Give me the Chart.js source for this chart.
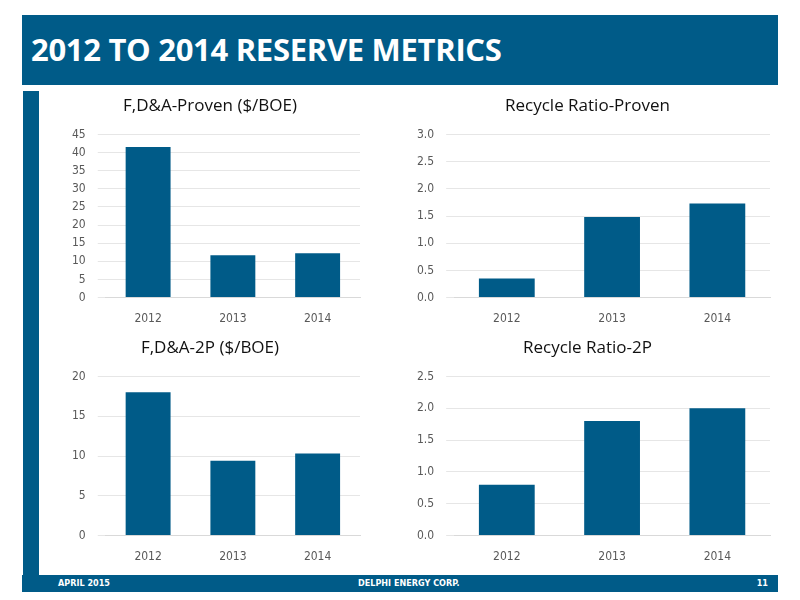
<!DOCTYPE html>
<html><head><meta charset="utf-8">
<script src="https://cdn.jsdelivr.net/npm/chart.js@4"></script>
<style>
body{margin:0;width:800px;height:600px;background:#fff;position:relative;overflow:hidden;font-family:"Open Sans",sans-serif}
#hdr{position:absolute;left:22px;top:15px;width:756px;height:70px;background:#005b88;color:#fff;font-weight:bold;font-size:31px;line-height:68px;padding-left:9px;box-sizing:border-box;letter-spacing:-0.3px}
#lbar{position:absolute;left:23px;top:91px;width:16px;height:500px;background:#005b88}
#ftr{position:absolute;left:22px;top:575px;width:756px;height:17px;background:#005b88;color:#fff;font-family:"Liberation Sans Narrow","DejaVu Sans Condensed",sans-serif;font-weight:bold;font-size:9px;line-height:17px}
.c{position:absolute}
</style></head><body>
<div id="hdr">2012 TO 2014 RESERVE METRICS</div>
<div id="lbar"></div>
<div id="ftr"><span style="position:absolute;left:36px">APRIL 2015</span><span style="position:absolute;left:336px">DELPHI ENERGY CORP.</span><span style="position:absolute;right:10px">11</span></div>
<div class="c" style="left:60px;top:92px;width:310px;height:240px"><canvas id="c1"></canvas></div>
<div class="c" style="left:405px;top:92px;width:375px;height:240px"><canvas id="c2"></canvas></div>
<div class="c" style="left:60px;top:334px;width:310px;height:236px"><canvas id="c3"></canvas></div>
<div class="c" style="left:405px;top:334px;width:375px;height:236px"><canvas id="c4"></canvas></div>
<script>
const years=["2012","2013","2014"];
const fdaProven=[41.5,11.7,12.2];
const rrProven=[0.35,1.48,1.73];
const fda2P=[18.0,9.4,10.3];
const rr2P=[0.8,1.8,2.0];
const color="#005b88";
function mk(id,title,data,max,step,dec){
  new Chart(document.getElementById(id),{type:'bar',
    data:{labels:years,datasets:[{data:data,backgroundColor:color,barPercentage:0.53,categoryPercentage:1}]},
    options:{responsive:true,maintainAspectRatio:false,animation:false,
      layout:{padding:{right:10}},
      plugins:{legend:{display:false},tooltip:{enabled:false},
        title:{display:true,text:title,color:'#111',font:{family:'Open Sans',size:17,weight:'normal'},padding:{top:4,bottom:18}}},
      scales:{
        x:{grid:{display:false},border:{color:'#d9d9d9'},ticks:{color:'#595959',font:{family:'Liberation Sans Narrow, DejaVu Sans Condensed',size:12},padding:6}},
        y:{min:0,max:max,border:{display:false},grid:{color:'#e6e6e6'},
          ticks:{stepSize:step,color:'#595959',padding:12,font:{family:'Liberation Sans Narrow, DejaVu Sans Condensed',size:12},callback:v=>v.toFixed(dec)}}}}});
}
mk('c1','F,D&A-Proven ($/BOE)',fdaProven,45,5,0);
mk('c2','Recycle Ratio-Proven',rrProven,3,0.5,1);
mk('c3','F,D&A-2P ($/BOE)',fda2P,20,5,0);
mk('c4','Recycle Ratio-2P',rr2P,2.5,0.5,1);
</script></body></html>
